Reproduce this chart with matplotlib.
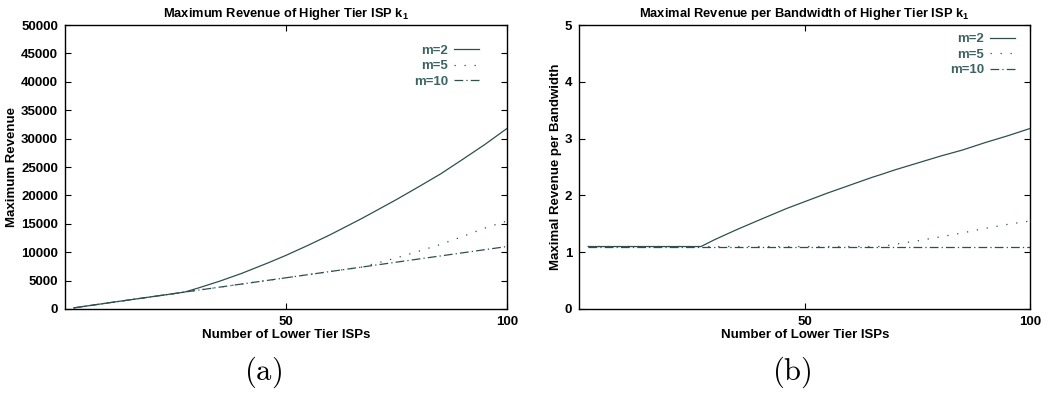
import numpy as np
import matplotlib
matplotlib.use('Agg')
import matplotlib.pyplot as plt

plt.rcParams['font.family'] = ['Liberation Sans', 'DejaVu Sans']
plt.rcParams['mathtext.fontset'] = 'cm'

# ---- du lieu doc tu hinh ----
n_isp = [2, 10, 20, 27, 30, 35, 40, 46, 50, 55, 60, 65, 67, 70, 75, 80, 85, 90, 95, 100]

# (a) doanh thu cuc dai
rev_m2  = [200, 1100, 2200, 2970, 3660, 4900, 6280, 8140, 9450, 11220, 13080, 15080,
           15880, 17150, 19280, 21520, 23800, 26370, 28980, 31800]
rev_m5  = [200, 1100, 2200, 2970, 3300, 3850, 4400, 5060, 5500, 6050, 6600, 7150,
           7370, 7980, 9000, 10160, 11390, 12780, 14250, 15500]
rev_m10 = [200, 1100, 2200, 2970, 3300, 3850, 4400, 5060, 5500, 6050, 6600, 7150,
           7370, 7700, 8250, 8800, 9350, 9900, 10450, 11000]

# (b) doanh thu tren bang thong
rpb_m2  = [1.1, 1.1, 1.1, 1.1, 1.22, 1.4, 1.57, 1.77, 1.89, 2.04, 2.18, 2.32,
           2.37, 2.45, 2.57, 2.69, 2.8, 2.93, 3.05, 3.18]
rpb_m5  = [1.1, 1.1, 1.1, 1.1, 1.1, 1.1, 1.1, 1.1, 1.1, 1.1, 1.1, 1.1,
           1.1, 1.14, 1.2, 1.27, 1.34, 1.42, 1.49, 1.55]
rpb_m10 = [1.1] * 20

labels = ['m=2', 'm=5', 'm=10']
line_col = '#2f4f4f'
txt_col = '#3d6363'
styles = ['-', (0, (1, 7)), (0, (7, 2.5, 1, 2.5))]

fig = plt.figure(figsize=(10.55, 3.96), dpi=100)
ax1 = fig.add_axes([0.0616, 0.2197, 0.419, 0.717])
ax2 = fig.add_axes([0.549, 0.2197, 0.4275, 0.717])

def setup(ax, title, ylabel, ylim, yticks):
    ax.set_xlim(0, 100)
    ax.set_ylim(*ylim)
    ax.set_xticks([50, 100])
    ax.set_yticks(yticks)
    ax.tick_params(direction='in', top=True, right=True, length=4, width=0.8,
                   labelsize=9.5, pad=5)
    for lab in ax.get_xticklabels() + ax.get_yticklabels():
        lab.set_fontweight('bold')
    for s in ax.spines.values():
        s.set_linewidth(1.0)
    ax.set_title(title, fontsize=9.3, fontweight='bold', pad=6)
    ax.set_xlabel('Number of Lower Tier ISPs', fontsize=9.5, fontweight='bold', labelpad=1)
    ax.set_ylabel(ylabel, fontsize=9.5, fontweight='bold', labelpad=2)

for ax, series in [(ax1, [rev_m2, rev_m5, rev_m10]), (ax2, [rpb_m2, rpb_m5, rpb_m10])]:
    for ys, ls, lab in zip(series, styles, labels):
        ax.plot(n_isp, ys, color=line_col, linestyle=ls, linewidth=0.9, label=lab)

setup(ax1, 'Maximum Revenue of Higher Tier ISP k$_\\mathregular{1}$', 'Maximum Revenue',
      (0, 50000), np.arange(0, 50001, 5000))
setup(ax2, 'Maximal Revenue per Bandwidth of Higher Tier ISP k$_\\mathregular{1}$',
      'Maximal Revenue per Bandwidth', (0, 5), np.arange(0, 6, 1))

leg_kw = dict(frameon=False, markerfirst=False, handlelength=1.9, handletextpad=0.45,
              labelspacing=0.25, fontsize=9.5, labelcolor=txt_col, borderaxespad=0)
l1 = ax1.legend(loc='upper right', bbox_to_anchor=(0.948, 0.95), **leg_kw)
l2 = ax2.legend(loc='upper right', bbox_to_anchor=(0.978, 0.99), **leg_kw)
for l in (l1, l2):
    for t in l.get_texts():
        t.set_fontweight('bold')

fig.text(0.249, 0.04, r'$\mathrm{(a)}$', fontsize=22, ha='center')
fig.text(0.751, 0.04, r'$\mathrm{(b)}$', fontsize=22, ha='center')

fig.savefig('out.png', dpi=100)
